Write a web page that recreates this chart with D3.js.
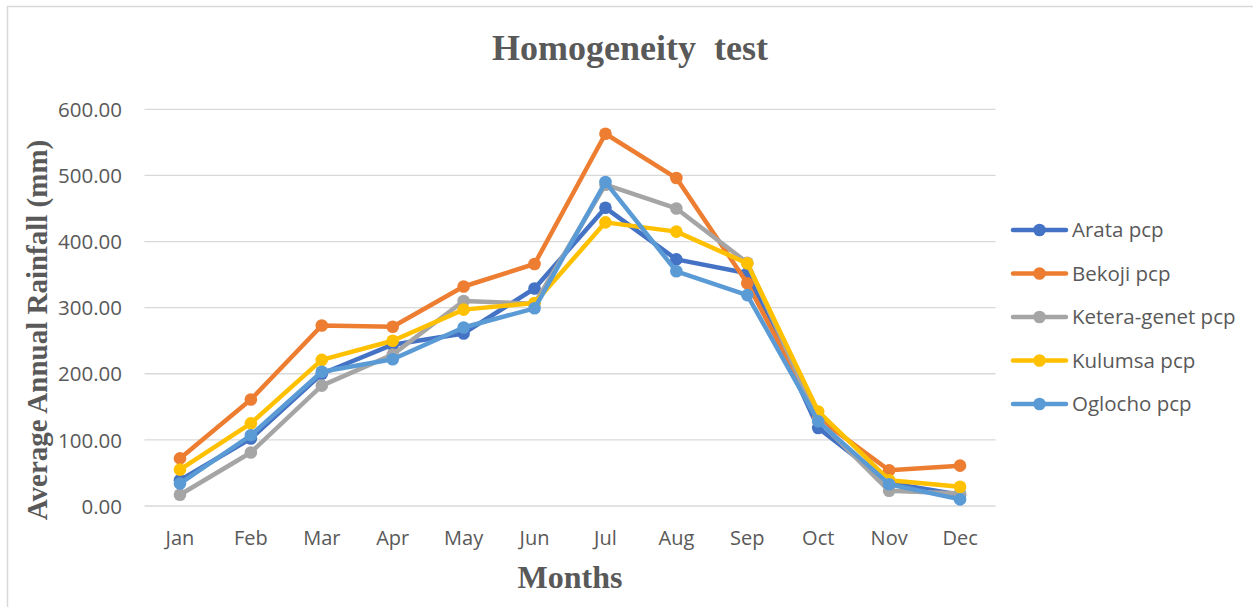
<!DOCTYPE html>
<html>
<head>
<meta charset="utf-8">
<script src="https://cdn.jsdelivr.net/npm/d3@7"></script>
<style>
  html, body { margin: 0; padding: 0; background: #fff; }
  svg { display: block; }
</style>
</head>
<body>
<svg id="chart" width="1253" height="607"></svg>
<script>
const months = ["Jan","Feb","Mar","Apr","May","Jun","Jul","Aug","Sep","Oct","Nov","Dec"];
const yTicks = [0, 100, 200, 300, 400, 500, 600];
const seriesNames = ["Arata pcp","Bekoji pcp","Ketera-genet pcp","Kulumsa pcp","Oglocho pcp"];
const seriesColors = ["#4472C4","#ED7D31","#A5A5A5","#FFC000","#5B9BD5"];
const arata   = [39, 102, 200, 244, 261, 329, 451, 373, 352, 118, 35, 17];
const bekoji  = [72, 161, 273, 271, 332, 366, 563, 496, 337, 133, 54, 61];
const ketera  = [17, 81, 182, 229, 310, 306, 486, 450, 368, 130, 23, 19];
const kulumsa = [55, 125, 221, 250, 297, 307, 429, 415, 367, 143, 39, 29];
const oglocho = [34, 107, 203, 222, 270, 299, 490, 355, 319, 128, 33, 10];
const allValues = [arata, bekoji, ketera, kulumsa, oglocho];

const svg = d3.select("#chart");
const gray = "#595959";

// outer chart border
svg.append("rect")
  .attr("x", 7.5).attr("y", 6.5).attr("width", 1260).attr("height", 620)
  .attr("fill", "none").attr("stroke", "#d9d9d9").attr("stroke-width", 1.5);

const x = d3.scaleBand().domain(months).range([144.5, 995.5]);
const y = d3.scaleLinear().domain([0, 600]).range([506, 109.3]);

// gridlines
svg.append("g").selectAll("line").data(yTicks).join("line")
  .attr("x1", 144.5).attr("x2", 995.5)
  .attr("y1", d => y(d)).attr("y2", d => y(d))
  .attr("stroke", "#d9d9d9").attr("stroke-width", 1.3);

// y axis labels
const yAxis = d3.axisLeft(y).tickValues(yTicks).tickFormat(d3.format(".2f")).tickSize(0).tickPadding(0);
const gy = svg.append("g").attr("transform", "translate(122,0)").call(yAxis);
gy.select(".domain").remove();
gy.selectAll("text").attr("fill", gray).attr("font-family", "'Open Sans', sans-serif")
  .attr("font-size", "20.5px").attr("dy", "0.35em");

// x axis labels
const xAxis = d3.axisBottom(x).tickSize(0).tickPadding(0);
const gx = svg.append("g").attr("transform", "translate(0,531)").call(xAxis);
gx.select(".domain").remove();
gx.selectAll("text").attr("fill", gray).attr("font-family", "'Open Sans', sans-serif")
  .attr("font-size", "20px").attr("dy", "0.71em");

// series
const line = d3.line().x((d, i) => x(months[i]) + x.bandwidth() / 2).y(d => y(d));
allValues.forEach((vals, si) => {
  const g = svg.append("g");
  g.append("path").datum(vals).attr("d", line)
    .attr("fill", "none").attr("stroke", seriesColors[si])
    .attr("stroke-width", 4.5).attr("stroke-linejoin", "round").attr("stroke-linecap", "round");
  g.selectAll("circle").data(vals).join("circle")
    .attr("cx", (d, i) => x(months[i]) + x.bandwidth() / 2)
    .attr("cy", d => y(d)).attr("r", 6.3)
    .attr("fill", seriesColors[si]);
});

// title
svg.append("text").attr("x", 630).attr("y", 60).attr("text-anchor", "middle")
  .attr("font-family", "'Liberation Serif', 'Times New Roman', serif").attr("font-weight", "bold")
  .attr("font-size", "36px").attr("fill", gray).attr("xml:space", "preserve")
  .style("white-space", "pre").text("Homogeneity  test");

// x title
svg.append("text").attr("x", 570).attr("y", 588).attr("text-anchor", "middle")
  .attr("font-family", "'Liberation Serif', 'Times New Roman', serif").attr("font-weight", "bold")
  .attr("font-size", "32px").attr("fill", gray).text("Months");

// y title
svg.append("text").attr("transform", "translate(47,330) rotate(-90)").attr("text-anchor", "middle")
  .attr("font-family", "'Liberation Serif', 'Times New Roman', serif").attr("font-weight", "bold")
  .attr("font-size", "29px").attr("fill", gray).text("Average Annual Rainfall (mm)");

// legend
const legendY = d3.scalePoint().domain(seriesNames).range([230, 404]);
const lg = svg.append("g");
seriesNames.forEach((name, i) => {
  const yy = legendY(name);
  lg.append("line").attr("x1", 1013).attr("x2", 1066).attr("y1", yy).attr("y2", yy)
    .attr("stroke", seriesColors[i]).attr("stroke-width", 4.5).attr("stroke-linecap", "round");
  lg.append("circle").attr("cx", 1039.5).attr("cy", yy).attr("r", 6.3).attr("fill", seriesColors[i]);
  lg.append("text").attr("x", 1072).attr("y", yy).attr("dy", "0.35em")
    .attr("font-family", "'Open Sans', sans-serif").attr("font-size", "20.5px")
    .attr("fill", gray).text(name);
});
</script>
</body>
</html>
